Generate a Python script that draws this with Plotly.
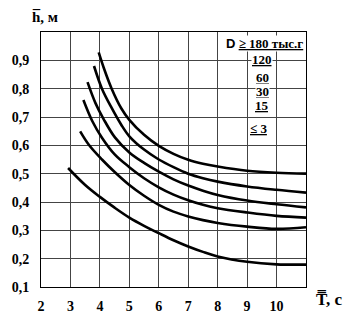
import plotly.graph_objects as go

# Curves: mean wave height h (m) vs mean period T (s) for groups D (тыс. г)
labels = ["D ≥ 180", "120", "60", "30", "15", "≤ 3"]
T1 = [3.96, 4.13, 4.4, 4.73, 5.0, 5.5, 6.0, 6.5, 7.0, 7.5, 8.0, 9.0, 10.0, 11.0]
H1 = [0.928, 0.874, 0.80, 0.73, 0.69, 0.637, 0.598, 0.57, 0.549, 0.535, 0.525, 0.51, 0.503, 0.50]
T2 = [3.80, 4.07, 4.4, 4.73, 5.0, 5.5, 6.0, 6.5, 7.0, 7.5, 8.0, 9.0, 10.0, 11.0]
H2 = [0.88, 0.80, 0.732, 0.672, 0.632, 0.585, 0.55, 0.523, 0.50, 0.484, 0.472, 0.455, 0.443, 0.433]
T3 = [3.58, 3.85, 4.13, 4.51, 5.0, 5.5, 6.0, 6.5, 7.0, 7.5, 8.0, 9.0, 10.0, 11.0]
H3 = [0.823, 0.749, 0.692, 0.628, 0.575, 0.538, 0.507, 0.48, 0.458, 0.44, 0.425, 0.405, 0.392, 0.381]
T4 = [3.44, 3.74, 4.07, 4.51, 5.0, 5.5, 6.0, 6.5, 7.0, 7.5, 8.0, 9.0, 10.0, 11.0]
H4 = [0.76, 0.686, 0.627, 0.567, 0.523, 0.484, 0.452, 0.426, 0.406, 0.39, 0.378, 0.363, 0.351, 0.345]
T5 = [3.33, 3.63, 4.07, 4.51, 5.0, 5.5, 6.0, 6.5, 7.0, 7.5, 8.0, 9.0, 10.0, 11.0]
H5 = [0.649, 0.601, 0.55, 0.505, 0.46, 0.422, 0.39, 0.366, 0.349, 0.336, 0.326, 0.313, 0.305, 0.311]
T6 = [2.92, 3.5, 4.0, 4.5, 5.0, 5.5, 6.0, 6.5, 7.0, 7.5, 8.0, 9.0, 10.0, 11.0]
H6 = [0.52, 0.46, 0.418, 0.38, 0.345, 0.316, 0.29, 0.265, 0.243, 0.224, 0.208, 0.189, 0.18, 0.179]

x_ticks = [2, 3, 4, 5, 6, 7, 8, 9, 10]
x_ticktext = ["2", "3", "4", "5", "6", "7", "8", "9", "10"]
y_ticks = [0.1, 0.2, 0.3, 0.4, 0.5, 0.6, 0.7, 0.8, 0.9]
y_ticktext = ["0,1", "0,2", "0,3", "0,4", "0,5", "0,6", "0,7", "0,8", "0,9"]

# legend label positions (T, h)
leg_x = [9.6, 9.52, 9.52, 9.52, 9.52, 9.4]
leg_y = [0.958, 0.902, 0.841, 0.79, 0.739, 0.661]

FONT = "Liberation Serif"

fig = go.Figure()
for T, H in [(T1, H1), (T2, H2), (T3, H3), (T4, H4), (T5, H5), (T6, H6)]:
    fig.add_trace(go.Scatter(x=T, y=H, mode="lines",
                             line=dict(color="black", width=2.6, shape="spline", smoothing=1.0),
                             showlegend=False, hoverinfo="skip"))

# white patch behind legend header
fig.add_shape(type="rect", x0=8.6, x1=11, y0=0.905, y1=1.0, layer="below",
              line=dict(width=0), fillcolor="white")

for i, (lx, ly, lab) in enumerate(zip(leg_x, leg_y, labels)):
    if i == 0:
        txt = ("<span style='font-family:Liberation Sans'>D</span> "
               "<span style='text-decoration:underline'>≥ 180 тыс.г</span>")
    else:
        txt = "<span style='text-decoration:underline'>%s</span>" % lab
    fig.add_annotation(x=lx, y=ly, text="<b>" + txt + "</b>", showarrow=False,
                       font=dict(family=FONT, size=13, color="black"),
                       bgcolor="white", borderpad=0, xanchor="center", yanchor="middle")

fig.add_annotation(xref="paper", yref="paper", x=-0.04, y=1.02, xanchor="left", yanchor="bottom",
                   text="<b>h\u0305, м</b>", showarrow=False,
                   font=dict(family=FONT, size=15, color="black"))
fig.add_annotation(xref="paper", yref="paper", x=1.03, y=0.0, xanchor="left", yanchor="top",
                   text="<b>T\u033f, с</b>", showarrow=False,
                   font=dict(family=FONT, size=17, color="black"))

axis_common = dict(showline=True, linecolor="black", linewidth=1, mirror=True,
                   showgrid=True, gridcolor="#444", gridwidth=1, zeroline=False,
                   tickfont=dict(family=FONT, size=14, color="black"), ticks="")
fig.update_xaxes(range=[2, 11], tickvals=x_ticks, ticktext=["<b>%s</b>" % t for t in x_ticktext],
                 ticklabelstandoff=6, **axis_common)
fig.update_yaxes(range=[0.1, 1.0], tickvals=y_ticks, ticktext=["<b>%s</b>" % t for t in y_ticktext],
                 ticklabelstandoff=8, **axis_common)
fig.update_layout(width=352, height=326, margin=dict(l=38, r=46, t=32, b=29),
                  plot_bgcolor="white", paper_bgcolor="white")
fig.write_html("out.html")
